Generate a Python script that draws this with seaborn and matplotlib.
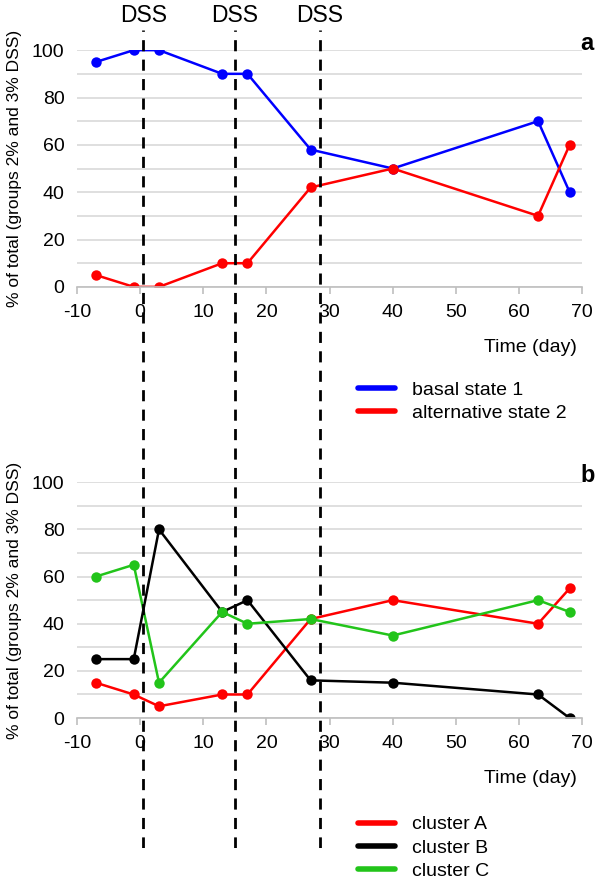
import pandas as pd
import matplotlib
matplotlib.use("Agg")
import matplotlib.pyplot as plt
from matplotlib import font_manager
import seaborn as sns
from matplotlib.lines import Line2D

# --- Data ---
days = [-7, -1, 3, 13, 17, 27, 40, 63, 68]
basal_state_1 = [95, 100, 100, 90, 90, 58, 50, 70, 40]
alternative_state_2 = [5, 0, 0, 10, 10, 42, 50, 30, 60]

cluster_a = [15, 10, 5, 10, 10, 42, 50, 40, 55]
cluster_b = [25, 25, 80, 45, 50, 16, 15, 10, 0]
cluster_c = [60, 65, 15, 45, 40, 42, 35, 50, 45]

dss_days = [0.5, 15, 28.5]
x_ticks = [-10, 0, 10, 20, 30, 40, 50, 60, 70]
y_ticks = [0, 20, 40, 60, 80, 100]

top_names = ["basal state 1", "alternative state 2"]
top_colors = ["#0000ff", "#ff0000"]
bottom_names = ["cluster A", "cluster B", "cluster C"]
bottom_colors = ["#ff0000", "#000000", "#22c41a"]

sns.set_theme(style="white")
plt.rcParams["font.family"] = ["Liberation Sans", "DejaVu Sans"]
plt.rcParams["axes.unicode_minus"] = False
for key in ["text.color", "axes.labelcolor", "xtick.color", "ytick.color"]:
    plt.rcParams[key] = "black"

# narrow face for the rotated y label, if there is one
installed = {f.name for f in font_manager.fontManager.ttflist}
if "Liberation Sans Narrow" in installed:
    ylab_font = dict(family=["Liberation Sans Narrow", "DejaVu Sans"], fontsize=14)
else:
    ylab_font = dict(family=["Liberation Sans", "DejaVu Sans"], fontsize=12.5)

df_top = pd.concat([
    pd.DataFrame({"day": days, "pct": basal_state_1, "state": top_names[0]}),
    pd.DataFrame({"day": days, "pct": alternative_state_2, "state": top_names[1]}),
])
df_bot = pd.concat([
    pd.DataFrame({"day": days, "pct": cluster_a, "state": bottom_names[0]}),
    pd.DataFrame({"day": days, "pct": cluster_b, "state": bottom_names[1]}),
    pd.DataFrame({"day": days, "pct": cluster_c, "state": bottom_names[2]}),
])

fig = plt.figure(figsize=(5.96, 8.8), dpi=100)
ax_top = fig.add_axes([0.129, 0.674, 0.848, 0.269])
ax_bot = fig.add_axes([0.129, 0.184, 0.848, 0.268])


def style_axis(ax, letter):
    ax.set_xlim(-10, 70)
    ax.set_ylim(0, 100)
    ax.set_yticks(y_ticks)
    ax.set_yticks(range(10, 100, 20), minor=True)
    ax.yaxis.grid(True, which="both", color="#d9d9d9", linewidth=1.2)
    ax.set_axisbelow(True)
    ax.set_xticks(x_ticks)
    ax.tick_params(axis="y", which="both", length=0, labelsize=14, pad=9)
    ax.tick_params(axis="x", length=5, color="#bfbfbf", width=1.2, direction="out",
                   labelsize=14, pad=7, bottom=True)
    for s in ["top", "right", "left"]:
        ax.spines[s].set_visible(False)
    ax.spines["bottom"].set_color("#bfbfbf")
    ax.spines["bottom"].set_linewidth(1.2)
    ax.set_xlabel("")
    ax.set_ylabel("% of total (groups 2% and 3% DSS)", labelpad=7, **ylab_font)
    ax.text(0.99, -0.255, "Time (day)", transform=ax.transAxes, ha="right",
            va="center", fontsize=14)
    ax.text(1.01, 1.03, letter, transform=ax.transAxes, ha="center",
            va="center", fontsize=17, fontweight="bold")
    if ax.get_legend() is not None:
        ax.get_legend().remove()


sns.lineplot(data=df_top, x="day", y="pct", hue="state", hue_order=top_names,
             palette=top_colors, marker="o", markersize=7.5, markeredgewidth=0,
             linewidth=1.8, estimator=None, ax=ax_top)
sns.lineplot(data=df_bot, x="day", y="pct", hue="state", hue_order=bottom_names,
             palette=bottom_colors, marker="o", markersize=7.5, markeredgewidth=0,
             linewidth=1.8, estimator=None, ax=ax_bot)

style_axis(ax_top, "a")
style_axis(ax_bot, "b")

# dashed DSS lines across both panels
ax_dss = fig.add_axes([0.129, 0.036, 0.848, 0.93], facecolor="none")
ax_dss.set_xlim(-10, 70)
ax_dss.set_ylim(0, 1)
ax_dss.axis("off")
for d in dss_days:
    ax_dss.axvline(d, ymin=0, ymax=1, color="black", linestyle=(0, (4, 3)), linewidth=2)
    ax_dss.text(d, 1.004, "DSS", ha="center", va="bottom", fontsize=16.5)

# legends
top_handles = [Line2D([], [], color=c, linewidth=4) for c in top_colors]
fig.legend(top_handles, top_names, loc="upper left", bbox_to_anchor=(0.585, 0.578),
           frameon=False, fontsize=14, handlelength=1.9, labelspacing=0.3,
           handletextpad=0.85, borderpad=0)
bot_handles = [Line2D([], [], color=c, linewidth=4) for c in bottom_colors]
fig.legend(bot_handles, bottom_names, loc="upper left", bbox_to_anchor=(0.585, 0.084),
           frameon=False, fontsize=14, handlelength=1.9, labelspacing=0.3,
           handletextpad=0.85, borderpad=0)

fig.savefig("out.png", dpi=100)
